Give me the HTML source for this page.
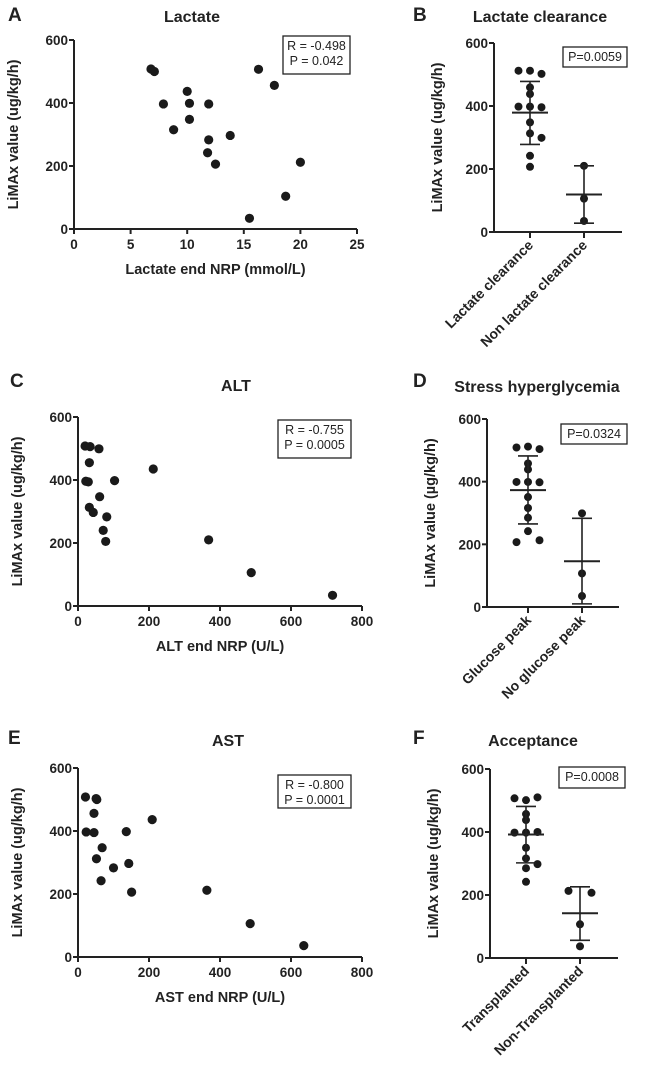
<!DOCTYPE html>
<html><head><meta charset="utf-8"><style>
body{margin:0;background:#fff;}
svg{display:block;font-family:"Liberation Sans",Arial,sans-serif;}
</style></head><body>
<svg id="fig" width="649" height="1068" viewBox="0 0 649 1068"></svg>
<script>
// Panel A: Lactate
const aX=[6.8,7.1,7.9,8.8,10.0,10.2,10.2,11.9,11.9,11.8,12.5,13.8,15.5,16.3,17.7,18.7,20.0];
const aY=[508,500,397,315,437,399,348,397,283,242,206,297,34,507,456,104,212];
const aXTicks=[0,5,10,15,20,25];
// Panel C: ALT
const cX=[20,34,59,32,22,29,103,212,61,32,43,81,71,78,368,488,717];
const cY=[508,506,499,455,396,394,398,435,347,313,297,283,240,205,210,106,34];
// Panel E: AST
const eX=[21,51,53,45,23,45,136,209,68,52,100,143,65,151,363,485,636];
const eY=[508,503,500,456,397,395,398,436,347,312,283,297,242,206,212,106,36];
const ltTicks=[0,200,400,600,800];
const yTicks=[0,200,400,600];
// Panel B
const bCats=["Lactate clearance","Non lactate clearance"];
const bG1=[512,512,502,459,438,398,398,396,348,313,299,242,207];
const bG1Side=[-1,0,1,0,0,-1,0,1,0,0,1,0,0];
const bG2=[210,106,35];
const bMean=[379,119], bSdHi=[478,210], bSdLo=[278,28];
// Panel D
const dCats=["Glucose peak","No glucose peak"];
const dG1=[509,512,504,458,439,399,399,398,351,316,285,242,207,213];
const dG1Side=[-1,0,1,0,0,-1,0,1,0,0,0,0,-1,1];
const dG2=[299,107,35];
const dMean=[373,146], dSdHi=[482,283], dSdLo=[265,10];
// Panel F
const fCats=["Transplanted","Non-Transplanted"];
const fG1=[507,501,510,457,438,398,398,400,350,316,298,285,242];
const fG1Side=[-1,0,1,0,0,-1,0,1,0,0,1,0,0];
const fG2=[213,207,107,37];
const fG2Side=[-1,1,0,0];
const fMean=[392,142], fSdHi=[481,226], fSdLo=[302,56];

const NS="http://www.w3.org/2000/svg";
const svg=document.getElementById('fig');
function el(tag,attrs,parent){const e=document.createElementNS(NS,tag);for(const k in attrs)e.setAttribute(k,attrs[k]);(parent||svg).appendChild(e);return e;}
function txt(s,attrs,parent){const t=el('text',attrs,parent);t.textContent=s;return t;}

function axesY(g,x0,yTop,yBot,ymax,xEnd){
  const sy=v=>yBot-(v/ymax)*(yBot-yTop);
  const ax=el('line',{x1:x0,y1:yTop,x2:x0,y2:yBot,stroke:'#222','stroke-width':2},g);
  
  const bx=el('line',{x1:x0,y1:yBot,x2:xEnd,y2:yBot,stroke:'#222','stroke-width':2},g);
  
  yTicks.forEach(v=>{
    el('line',{x1:x0-5,y1:sy(v),x2:x0,y2:sy(v),stroke:'#222','stroke-width':2},g);
    const t=txt(String(v),{x:x0-6,y:sy(v)+5,'text-anchor':'end','font-size':13.5,'font-weight':'bold',fill:'#222'},g);
    
  });
  return sy;
}
function frameText(g,x,y,w,h,lines,name){
  const r=el('rect',{x:x,y:y,width:w,height:h,fill:'#fff',stroke:'#222','stroke-width':1.3},g);
  
  lines.forEach((s,i)=>txt(s,{x:x+w/2,y:y+14+i*15,'text-anchor':'middle','font-size':12.5,fill:'#222'},g));
}
function scatter(o){
  const g=el('g',{});
  
  const sy=axesY(g,o.x0,o.yTop,o.yBot,600,o.xEnd);
  const xmax=o.xt[o.xt.length-1];
  const sx=v=>o.x0+v/xmax*(o.xEnd-o.x0);
  o.xt.forEach(v=>{
    el('line',{x1:sx(v),y1:o.yBot,x2:sx(v),y2:o.yBot+5,stroke:'#222','stroke-width':2},g);
    const t=txt(String(v),{x:sx(v),y:o.yBot+20,'text-anchor':'middle','font-size':13.5,'font-weight':'bold',fill:'#222'},g);
    
  });
  o.xs.forEach((v,i)=>{
    const c=el('circle',{cx:sx(v),cy:sy(o.ys[i]),r:4.6,fill:'#1a1a1a'},g);
    
  });
  const tt=txt(o.title,{x:o.titleX,y:o.titleY,'text-anchor':'middle','font-size':16,'font-weight':'bold',fill:'#222'},g);
  
  const xl=txt(o.xlabel,{x:(o.x0+o.xEnd)/2,y:o.yBot+45,'text-anchor':'middle','font-size':14.5,'font-weight':'bold',fill:'#222'},g);
  
  const yl=txt('LiMAx value (ug/kg/h)',{x:0,y:0,transform:`translate(${o.x0-56},${(o.yTop+o.yBot)/2}) rotate(-90)`,'text-anchor':'middle','font-size':14.5,'font-weight':'bold',fill:'#222'},g);
  
  frameText(g,o.box[0],o.box[1],o.box[2],o.box[3],o.boxText,'stats-box');
  const L=txt(o.letter,{x:o.letterX,y:o.letterY,'font-size':19,'font-weight':'bold',fill:'#222'},g);
  
}
function dotplot(o){
  const g=el('g',{});
  
  const sy=axesY(g,o.x0,o.yTop,o.yBot,600,o.xEnd);
  const groups=[[o.g1,o.s1],[o.g2,o.s2]];
  o.cx.forEach((cx,gi)=>{
    el('line',{x1:cx,y1:o.yBot,x2:cx,y2:o.yBot+6,stroke:'#222','stroke-width':2},g);
    const t=txt(o.cats[gi],{x:0,y:0,transform:`translate(${cx+4},${o.yBot+14}) rotate(-45)`,'text-anchor':'end','font-size':14,'font-weight':'bold',fill:'#222'},g);
    
    const [vals,side]=groups[gi];
    vals.forEach((v,i)=>{
      const c=el('circle',{cx:cx+(side?side[i]:0)*11.5,cy:sy(v),r:4,fill:'#1a1a1a'},g);
      
    });
    const m=el('line',{x1:cx-18,y1:sy(o.mean[gi]),x2:cx+18,y2:sy(o.mean[gi]),stroke:'#222','stroke-width':2},g);
    
    const e=el('path',{d:`M${cx},${sy(o.hi[gi])}V${sy(o.lo[gi])}M${cx-10},${sy(o.hi[gi])}H${cx+10}M${cx-10},${sy(o.lo[gi])}H${cx+10}`,stroke:'#222','stroke-width':1.6,fill:'none'},g);
    
  });
  const tt=txt(o.title,{x:o.titleX,y:o.titleY,'text-anchor':'middle','font-size':16,'font-weight':'bold',fill:'#222'},g);
  
  const yl=txt(o.ylabel,{x:0,y:0,transform:`translate(${o.x0-52},${(o.yTop+o.yBot)/2}) rotate(-90)`,'text-anchor':'middle','font-size':14.5,'font-weight':'bold',fill:'#222'},g);
  
  frameText(g,o.box[0],o.box[1],o.box[2],o.box[3],[o.ptext],'p-value-box');
  const L=txt(o.letter,{x:o.letterX,y:o.letterY,'font-size':19,'font-weight':'bold',fill:'#222'},g);
  
}
scatter({name:'panel-a-lactate',x0:74,yTop:40,yBot:229,xEnd:357,xt:aXTicks,xs:aX,ys:aY,title:'Lactate',titleX:192,titleY:22,xlabel:'Lactate end NRP (mmol/L)',box:[283,36,67,38],boxText:['R = -0.498','P =  0.042'],letter:'A',letterX:8,letterY:21});
scatter({name:'panel-c-alt',x0:78,yTop:417,yBot:606,xEnd:362,xt:ltTicks,xs:cX,ys:cY,title:'ALT',titleX:236,titleY:391,xlabel:'ALT end NRP (U/L)',box:[278,420,73,38],boxText:['R = -0.755','P = 0.0005'],letter:'C',letterX:10,letterY:387});
scatter({name:'panel-e-ast',x0:78,yTop:768,yBot:957,xEnd:362,xt:ltTicks,xs:eX,ys:eY,title:'AST',titleX:228,titleY:746,xlabel:'AST end NRP (U/L)',box:[278,775,73,33],boxText:['R = -0.800','P = 0.0001'],letter:'E',letterX:8,letterY:744});
dotplot({name:'panel-b-lactate-clearance',x0:494,yTop:43,yBot:232,xEnd:622,cx:[530,584],cats:bCats,g1:bG1,s1:bG1Side,g2:bG2,s2:null,mean:bMean,hi:bSdHi,lo:bSdLo,title:'Lactate clearance',titleX:540,titleY:22,ylabel:'LiMAx value (ug/kg/h)',box:[563,47,64,20],ptext:'P=0.0059',letter:'B',letterX:413,letterY:21});
dotplot({name:'panel-d-stress-hyperglycemia',x0:487,yTop:419,yBot:607,xEnd:619,cx:[528,582],cats:dCats,g1:dG1,s1:dG1Side,g2:dG2,s2:null,mean:dMean,hi:dSdHi,lo:dSdLo,title:'Stress hyperglycemia',titleX:537,titleY:392,ylabel:'LiMAx value (µg/kg/h)',box:[561,424,66,20],ptext:'P=0.0324',letter:'D',letterX:413,letterY:387});
dotplot({name:'panel-f-acceptance',x0:490,yTop:769,yBot:958,xEnd:618,cx:[526,580],cats:fCats,g1:fG1,s1:fG1Side,g2:fG2,s2:fG2Side,mean:fMean,hi:fSdHi,lo:fSdLo,title:'Acceptance',titleX:533,titleY:746,ylabel:'LiMAx value (ug/kg/h)',box:[559,767,66,21],ptext:'P=0.0008',letter:'F',letterX:413,letterY:744});
</script>
</body></html>
